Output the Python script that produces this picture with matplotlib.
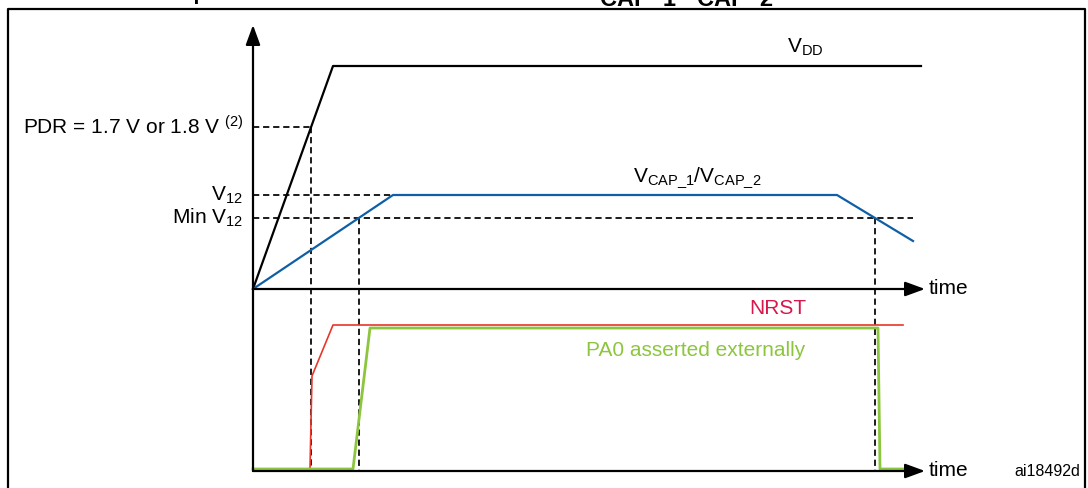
import numpy as np
import matplotlib
matplotlib.use("Agg")
import matplotlib.pyplot as plt

plt.rcParams["font.family"] = ["Liberation Sans", "DejaVu Sans"]
plt.rcParams["mathtext.fontset"] = "custom"
plt.rcParams["mathtext.rm"] = "Liberation Sans"
plt.rcParams["mathtext.it"] = "Liberation Sans"
plt.rcParams["mathtext.bf"] = "Liberation Sans:bold"
plt.rcParams["mathtext.default"] = "rm"

# --- waveform data (time in diagram units, level in diagram units) ---
vdd_t = [0.0, 8.0, 66.8]
vdd_v = [0.0, 2.23, 2.23]

vcap_t = [0.0, 14.0, 58.4, 66.0]
vcap_v = [0.0, 0.94, 0.94, 0.48]

pdr_level = 1.62
v12_level = 0.94
min_v12_level = 0.71

# bottom panel, levels measured from the lower time axis
nrst_t = [0.0, 5.7, 5.9, 8.0, 65.0]
nrst_v = [0.0, 0.0, 0.93, 1.44, 1.44]

pa0_t = [0.0, 10.0, 11.7, 62.5, 62.7, 65.1]
pa0_v = [0.0, 0.0, 1.41, 1.41, 0.0, 0.0]

labels_left = [r"PDR = 1.7 V or 1.8 V $^{(2)}$", r"V$_{12}$", r"Min V$_{12}$"]

# --- layout ---
BOT = -1.80          # baseline of lower panel signals
BOT_AXIS = -1.82     # lower time axis
T_END = 67.2         # arrow tip of time axes
Y_TIP = 2.64         # arrow tip of vertical axis
FS = 15

BLACK = "black"
BLUE = "#0f5fa6"
RED = "#e8362b"
RED_TXT = "#d8174a"
GREEN = "#8cc63f"

fig = plt.figure(figsize=(10.88, 4.88), dpi=100)
ax = fig.add_axes([0, 0, 1, 1])
ax.set_xlim(-25.3, 83.5)
ax.set_ylim(-1.99, 2.89)
ax.axis("off")

# frame
ax.plot([0.0074, 0.0074, 0.9972, 0.9972], [-0.05, 0.9815, 0.9815, -0.05],
        transform=ax.transAxes, color=BLACK, lw=1.6, clip_on=False)

# cropped caption fragments at top (only their lower edge is in the picture)
ax.text(-12.0, 2.893, "Startup", fontsize=15, fontweight="bold", ha="left", va="baseline")
ax.text(34.7, 2.84, "CAP_1", fontsize=17, fontweight="bold", ha="left", va="baseline")
ax.text(44.4, 2.84, "CAP_2", fontsize=17, fontweight="bold", ha="left", va="baseline")

# axes with arrows
arrow = dict(arrowstyle="-|>,head_length=0.6,head_width=0.22", color=BLACK,
             lw=1.6, mutation_scale=20, shrinkA=0, shrinkB=0)
ax.annotate("", xy=(0, Y_TIP), xytext=(0, BOT_AXIS), arrowprops=arrow)
ax.annotate("", xy=(T_END, 0), xytext=(0, 0), arrowprops=arrow)
ax.annotate("", xy=(T_END, BOT_AXIS), xytext=(0, BOT_AXIS), arrowprops=arrow)
ax.text(T_END + 0.4, 0, "time", fontsize=FS, ha="left", va="center")
ax.text(T_END + 0.4, BOT_AXIS, "time", fontsize=FS, ha="left", va="center")

# threshold crossings
t_pdr = np.interp(pdr_level, vdd_v[:2], vdd_t[:2])
t_min_up = np.interp(min_v12_level, vcap_v[:2], vcap_t[:2])
t_min_down = np.interp(-min_v12_level, [-v for v in vcap_v[2:]], vcap_t[2:])

dash = dict(color=BLACK, lw=1.25, linestyle=(0, (3.6, 2.2)))
ax.plot([0, t_pdr], [pdr_level, pdr_level], **dash)
ax.plot([t_pdr, t_pdr], [pdr_level, BOT_AXIS], **dash)
ax.plot([0, vcap_t[1]], [v12_level, v12_level], **dash)
ax.plot([0, vcap_t[-1]], [min_v12_level, min_v12_level], **dash)
ax.plot([t_min_up, t_min_up], [min_v12_level, BOT_AXIS], **dash)
ax.plot([t_min_down, t_min_down], [min_v12_level, BOT_AXIS], **dash)

# signals
ax.plot(vdd_t, vdd_v, color=BLACK, lw=1.6)
ax.plot(vcap_t, vcap_v, color=BLUE, lw=1.6)
ax.plot(nrst_t, BOT + np.array(nrst_v), color=RED, lw=1.2)
ax.plot(pa0_t, BOT + np.array(pa0_v), color=GREEN, lw=2.0)

# labels
ax.text(-1.0, pdr_level, labels_left[0], fontsize=FS, ha="right", va="center")
ax.text(-1.0, v12_level, labels_left[1], fontsize=FS, ha="right", va="center")
ax.text(-1.0, min_v12_level, labels_left[2], fontsize=FS, ha="right", va="center")

ax.text(55.2, 2.42, r"V$_{\mathrm{DD}}$", fontsize=FS, ha="center", va="center")
ax.text(44.4, 1.11, r"V$_{\mathrm{CAP\_1}}$/V$_{\mathrm{CAP\_2}}$", fontsize=FS,
        ha="center", va="center")
ax.text(55.3, -0.20, "NRST", fontsize=FS, color=RED_TXT, ha="right", va="center")
ax.text(55.2, -0.61, "PA0 asserted externally", fontsize=FS, color=GREEN,
        ha="right", va="center")
ax.text(82.7, BOT_AXIS, "ai18492d", fontsize=11.5, ha="right", va="center")

fig.savefig("out.png", dpi=100)
